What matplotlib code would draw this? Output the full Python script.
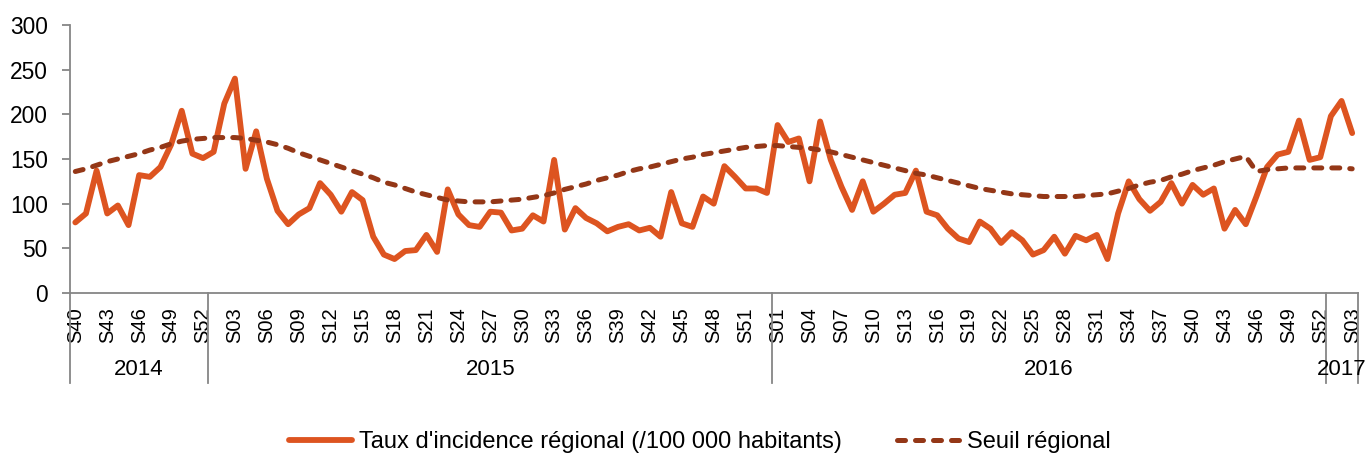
import numpy as np
import matplotlib.pyplot as plt
from matplotlib.transforms import blended_transform_factory

plt.rcParams['font.family'] = ['Liberation Sans', 'DejaVu Sans']

# weekly categories S40 2014 -> S03 2017
years = [2014, 2015, 2016, 2017]
weeks_per_year = [list(range(40, 53)), list(range(1, 54)), list(range(1, 53)), list(range(1, 4))]
week_labels = ['S%02d' % w for wk in weeks_per_year for w in wk]

# taux d'incidence regional (/100 000 habitants)
taux = [79, 89, 137, 89, 98, 76, 132, 130, 141, 166, 204, 156, 151,
        158, 212, 240, 139, 181, 128, 92, 77, 88, 95, 123, 110, 91, 113, 104, 63, 43,
        38, 47, 48, 65, 46, 116, 88, 76, 74, 91, 90, 70, 72, 87, 80, 149, 71, 95,
        84, 78, 69, 74, 77, 70, 73, 63, 113, 78, 74, 108, 100, 142, 130, 117, 117, 112,
        188, 169, 173, 125, 192, 149, 119, 93, 125, 91, 100, 110, 112, 137, 91, 87, 72,
        61, 57, 80, 72, 56, 68, 59, 43, 48, 63, 44, 64, 59, 65, 38, 89, 125, 105,
        92, 102, 123, 100, 121, 110, 117, 72, 93, 77, 108, 141, 155, 158, 193, 149, 152,
        198, 215, 179]

# seuil regional
seuil = [136, 139, 143, 147, 150, 153, 156, 160, 163, 167, 170, 172, 173,
         174, 174, 174, 173, 171, 169, 166, 162, 157, 153, 149, 145, 141, 137, 133, 129, 124,
         121, 117, 113, 110, 107, 104, 103, 102, 102, 102, 103, 104, 105, 107, 109, 112, 116, 119,
         122, 126, 129, 132, 136, 139, 141, 144, 147, 150, 152, 155, 157, 159, 161, 163, 164, 165,
         165, 164, 163, 162, 160, 158, 155, 152, 149, 146, 143, 140, 137, 134, 132, 129, 126,
         123, 120, 117, 115, 113, 111, 110, 109, 108, 108, 108, 108, 109, 110, 111, 114, 117, 121,
         124, 126, 130, 133, 137, 140, 143, 147, 150, 153, 136, 138, 139, 140, 140, 140, 140,
         140, 140, 139]

x = np.arange(len(week_labels))
grey = '#868686'

fig = plt.figure(figsize=(13.66, 4.59), dpi=100)
ax = fig.add_axes([0.05124, 0.36166, 0.94254, 0.58387])

ax.plot(x, taux, color='#DD5420', lw=4.2, solid_joinstyle='round', solid_capstyle='round',
        label="Taux d'incidence régional (/100 000 habitants)")
ax.plot(x, seuil, color='#943717', lw=3.6, dashes=(1.6, 2.0), dash_capstyle='round',
        label='Seuil régional')

ax.set_xlim(-0.5, len(x) - 0.5)
ax.set_ylim(0, 300)
ax.set_yticks(range(0, 301, 50))
ax.set_xticks(x[::3])
ax.set_xticklabels(week_labels[::3], rotation=90, fontsize=14.5)

for s in ['top', 'right']:
    ax.spines[s].set_visible(False)
for s in ['left', 'bottom']:
    ax.spines[s].set_color(grey)
    ax.spines[s].set_linewidth(1.3)
ax.tick_params(axis='y', colors=grey, labelcolor='black', labelsize=16.4, length=6, width=1.3, pad=10)
ax.tick_params(axis='x', length=0, pad=10, labelcolor='black')

# year group separators and labels
trans = blended_transform_factory(ax.transData, ax.transAxes)
bounds = [-0.5]
n = 0
for wk in weeks_per_year:
    n += len(wk)
    bounds.append(n - 0.5)
for b in bounds:
    ax.plot([b, b], [0, -0.336], color=grey, lw=1.3, transform=trans, clip_on=False)
for yr, b0, b1 in zip(years, bounds[:-1], bounds[1:]):
    ax.text((b0 + b1) / 2, -0.287, str(yr), transform=trans, ha='center', va='center', fontsize=16)

fig.legend(loc='center', bbox_to_anchor=(0.5124, 0.037), ncol=2, frameon=False, fontsize=17,
           handlelength=2.7, handletextpad=0.3, columnspacing=2.3)

fig.savefig('out.png', dpi=100)
